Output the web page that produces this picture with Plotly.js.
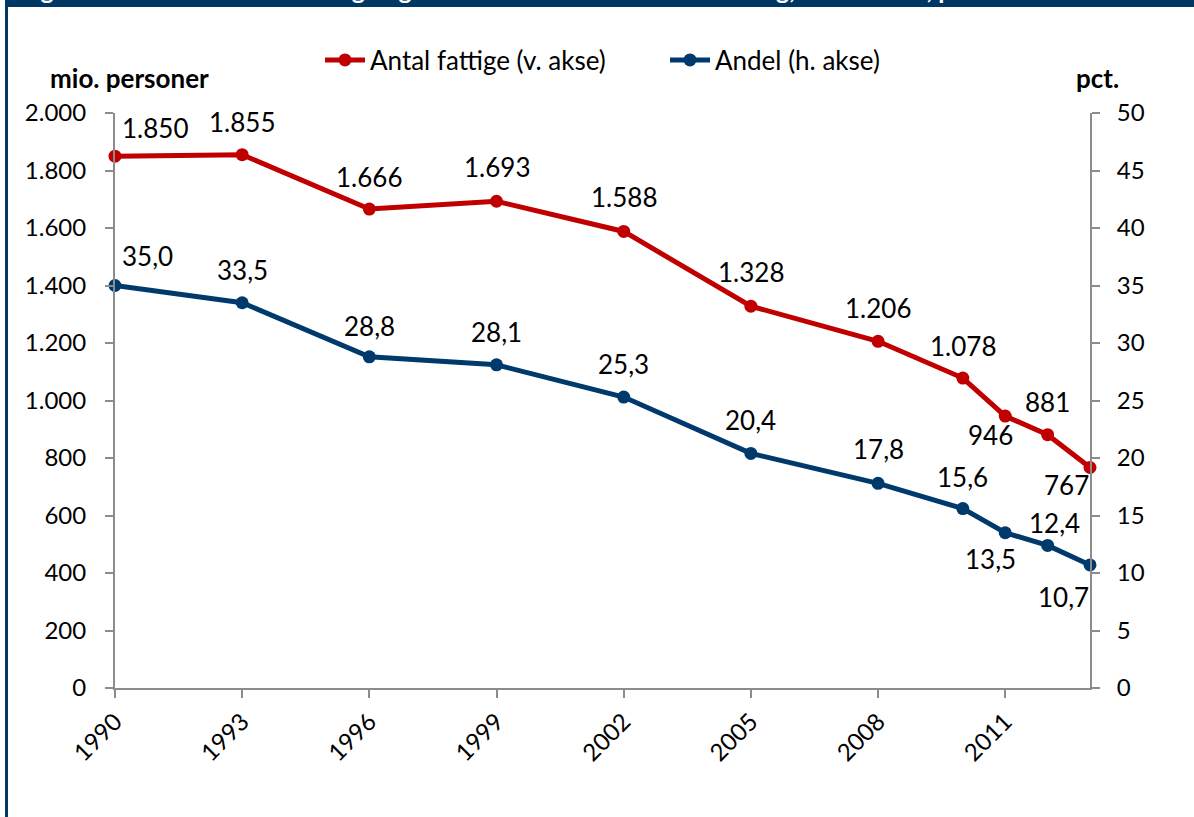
<!DOCTYPE html>
<html>
<head>
<meta charset="utf-8">
<script src="https://cdn.plot.ly/plotly-3.0.1.min.js"></script>
<style>
html,body{margin:0;padding:0;background:#fff;}
#chart{width:1194px;height:817px;}
</style>
</head>
<body>
<div id="chart"></div>
<script>
// ---- data ----
const years = [1990, 1993, 1996, 1999, 2002, 2005, 2008, 2010, 2011, 2012, 2013];
const antalFattige = [1850, 1855, 1666, 1693, 1588, 1328, 1206, 1078, 946, 881, 767];
const andel = [35.0, 33.5, 28.8, 28.1, 25.3, 20.4, 17.8, 15.6, 13.5, 12.4, 10.7];
const xTickVals = [1990, 1993, 1996, 1999, 2002, 2005, 2008, 2011];
const seriesNames = ['Antal fattige (v. akse)', 'Andel (h. akse)'];
const titleText = 'Figur 2.8.: Antal ekstremt fattige og deres andel af verdens befolkning, 1990-2013, pct.';
const leftAxisTitle = 'mio. personer';
const rightAxisTitle = 'pct.';

// label offsets (pixels) per point
const redShift = [[40,-28],[0,-33],[0,-32],[0,-34],[0,-34],[0,-34],[0,-33],[0,-32],[-15,19],[0,-33],[-24,18]];
const blueShift = [[32,-30],[0,-33],[0,-31],[0,-33],[0,-33],[0,-33],[0,-34],[0,-32],[-15,26],[7,-22],[-27,32]];

const RED = '#C00000';
const BLUE = '#003A6C';
const AXIS = '#8C8C8C';
const FONT = 'Lato, "Open Sans", sans-serif';

function fmtInt(n){ return String(n).replace(/\B(?=(\d{3})+(?!\d))/g, '.'); }
function fmtDec(v){ return v.toFixed(1).replace('.', ','); }

const traces = [
  {x: years, y: antalFattige, name: seriesNames[0], type: 'scatter', mode: 'lines+markers', cliponaxis: false,
   line: {color: RED, width: 5}, marker: {color: RED, size: 13}, yaxis: 'y', hoverinfo: 'skip'},
  {x: years, y: andel, name: seriesNames[1], type: 'scatter', mode: 'lines+markers', cliponaxis: false,
   line: {color: BLUE, width: 5}, marker: {color: BLUE, size: 13}, yaxis: 'y2', hoverinfo: 'skip'}
];

const annotations = [];
years.forEach((yr, i) => {
  annotations.push({x: yr, y: antalFattige[i], xref: 'x', yref: 'y', text: fmtInt(antalFattige[i]),
    showarrow: false, xshift: redShift[i][0], yshift: -redShift[i][1], xanchor: 'center', yanchor: 'middle',
    font: {family: FONT, size: 26, color: '#000'}});
  annotations.push({x: yr, y: andel[i], xref: 'x', yref: 'y2', text: fmtDec(andel[i]),
    showarrow: false, xshift: blueShift[i][0], yshift: -blueShift[i][1], xanchor: 'center', yanchor: 'middle',
    font: {family: FONT, size: 26, color: '#000'}});
});

// pixel -> paper helpers (plot area 115..1090 x, 113..688 y)
const L = 115, R = 1090, T = 113, B = 688;
const px = v => (v - L) / (R - L);
const py = v => (B - v) / (B - T);

annotations.push({xref: 'paper', yref: 'paper', x: px(48), y: py(78), xanchor: 'left', yanchor: 'middle',
  text: '<b>' + leftAxisTitle + '</b>', showarrow: false, font: {family: FONT, size: 26, color: '#000'}});
annotations.push({xref: 'paper', yref: 'paper', x: px(1121), y: py(78), xanchor: 'right', yanchor: 'middle',
  text: '<b>' + rightAxisTitle + '</b>', showarrow: false, font: {family: FONT, size: 26, color: '#000'}});
annotations.push({xref: 'paper', yref: 'paper', x: px(18), y: py(6), xanchor: 'left', yanchor: 'bottom',
  text: '<b>' + titleText + '</b>', showarrow: false, font: {family: FONT, size: 25, color: '#fff'}});

const shapes = [
  {type: 'rect', xref: 'paper', yref: 'paper', x0: px(5), x1: px(1200), y0: py(7), y1: py(-5),
   fillcolor: '#003865', line: {width: 0}, layer: 'below'},
  {type: 'rect', xref: 'paper', yref: 'paper', x0: px(5), x1: px(8), y0: py(825), y1: py(-5),
   fillcolor: '#003865', line: {width: 0}, layer: 'below'}
];

const layout = {
  width: 1194, height: 817,
  margin: {l: L, r: 1194 - R, t: T, b: 817 - B, pad: 0},
  paper_bgcolor: '#fff', plot_bgcolor: '#fff',
  separators: ',.',
  font: {family: FONT, size: 24, color: '#000'},
  showlegend: true,
  legend: {orientation: 'h', x: px(320), xanchor: 'left', y: py(60), yanchor: 'middle',
    entrywidth: 290, entrywidthmode: 'pixels',
    font: {family: FONT, size: 26, color: '#000'}, bgcolor: 'rgba(0,0,0,0)', itemwidth: 40, tracegroupgap: 0},
  xaxis: {range: [1990, 2013], tickvals: xTickVals, ticktext: xTickVals.map(String), tickangle: -45,
    showgrid: false, zeroline: false, showline: true, linecolor: AXIS, linewidth: 2,
    ticks: 'outside', ticklen: 8, tickwidth: 2, tickcolor: AXIS,
    tickfont: {family: FONT, size: 24, color: '#000'}},
  yaxis: {range: [0, 2000], dtick: 200, tick0: 0, tickformat: ',d',
    showgrid: false, zeroline: false, showline: true, linecolor: AXIS, linewidth: 2,
    ticks: 'outside', ticklen: 8, tickwidth: 2, tickcolor: AXIS, ticklabelstandoff: 14,
    tickfont: {family: FONT, size: 24, color: '#000'}},
  yaxis2: {range: [0, 50], dtick: 5, tick0: 0, overlaying: 'y', side: 'right',
    showgrid: false, zeroline: false, showline: true, linecolor: AXIS, linewidth: 2,
    ticks: 'outside', ticklen: 8, tickwidth: 2, tickcolor: AXIS, ticklabelstandoff: 12,
    tickfont: {family: FONT, size: 24, color: '#000'}},
  annotations: annotations,
  shapes: shapes
};

Plotly.newPlot('chart', traces, layout, {displayModeBar: false, staticPlot: true});
</script>
</body>
</html>
